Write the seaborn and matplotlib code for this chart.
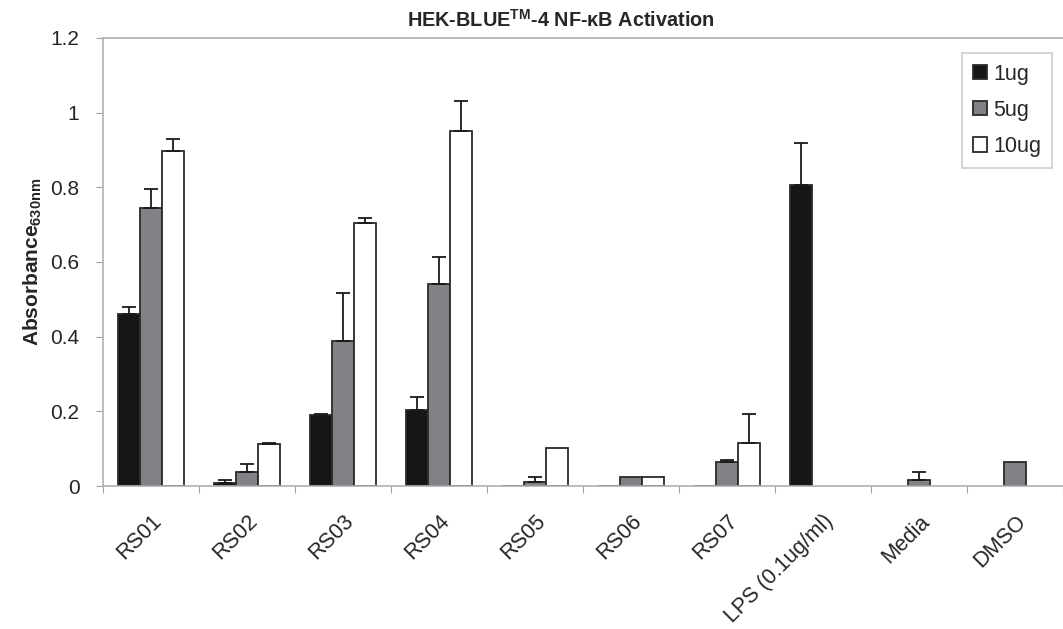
import numpy as np
import pandas as pd
import matplotlib
matplotlib.use("Agg")
import matplotlib.pyplot as plt
import matplotlib.transforms as mtransforms
import seaborn as sns

samples = ["RS01", "RS02", "RS03", "RS04", "RS05", "RS06", "RS07",
           "LPS (0.1ug/ml)", "Media", "DMSO"]
doses = ["1ug", "5ug", "10ug"]

mean_1ug = [0.462, 0.008, 0.190, 0.203, 0.0, 0.0, 0.0, 0.805, np.nan, np.nan]
mean_5ug = [0.745, 0.037, 0.389, 0.541, 0.012, 0.023, 0.063, np.nan, 0.016, 0.063]
mean_10ug = [0.897, 0.112, 0.705, 0.950, 0.101, 0.023, 0.114, np.nan, np.nan, np.nan]

err_1ug = [0.017, 0.007, 0.002, 0.036, 0.0, 0.0, 0.0, 0.114, 0.0, 0.0]
err_5ug = [0.050, 0.023, 0.129, 0.072, 0.011, 0.0, 0.007, 0.0, 0.021, 0.0]
err_10ug = [0.033, 0.002, 0.012, 0.080, 0.0, 0.0, 0.079, 0.0, 0.0, 0.0]

dose_colors = ["#161616", "#808285", "#ffffff"]

rows = []
for dose, means, errs in zip(doses, [mean_1ug, mean_5ug, mean_10ug],
                             [err_1ug, err_5ug, err_10ug]):
    for s, m, e in zip(samples, means, errs):
        rows.append({"sample": s, "dose": dose, "value": m, "err": e})
df = pd.DataFrame(rows)
plot_df = df.dropna(subset=["value"])

sns.set_style("white")
plt.rcParams["font.family"] = ["Liberation Sans", "DejaVu Sans"]
plt.rcParams["mathtext.fontset"] = "custom"
plt.rcParams["mathtext.rm"] = "Liberation Sans"
plt.rcParams["mathtext.bf"] = "Liberation Sans:bold"

fig = plt.figure(figsize=(10.63, 6.29), dpi=100)
ax = fig.add_axes([103 / 1063, 1 - 486 / 629, 1 - 103 / 1063, (486 - 38) / 629])

sns.barplot(data=plot_df, x="sample", y="value", hue="dose",
            order=samples, hue_order=doses, palette=dose_colors,
            errorbar=None, width=0.68, edgecolor="#2a2a2a", linewidth=1.3,
            saturation=1, ax=ax)

# upward-only error bars placed on each drawn bar
for dose, container in zip(doses, ax.containers):
    sub = df[df["dose"] == dose].set_index("sample")
    for patch in container.patches:
        cx = patch.get_x() + patch.get_width() / 2
        h = patch.get_height()
        if np.isnan(h):
            continue
        name = samples[int(round(cx))]
        e = sub.loc[name, "err"]
        if e > 0:
            ax.errorbar(cx, h, yerr=[[0], [e]], fmt="none", ecolor="#1a1a1a",
                        elinewidth=1.3, capsize=5, capthick=1.3, zorder=3)

ax.set_ylim(0, 1.2)
ax.set_xlim(-0.5, (1063 - 103) / 97.6 - 0.5)
ax.set_yticks([0, 0.2, 0.4, 0.6, 0.8, 1.0, 1.2])
ax.set_yticklabels(["0", "0.2", "0.4", "0.6", "0.8", "1", "1.2"], fontsize=15)

# category separators as major ticks, names on minor ticks
ax.set_xticks(np.arange(-0.5, len(samples), 1.0))
ax.set_xticklabels([])
ax.set_xticks(np.arange(len(samples)), minor=True)
ax.set_xticklabels(samples, minor=True, rotation=45, ha="right", va="top",
                   rotation_mode="anchor", fontsize=15.5)
shift = mtransforms.ScaledTranslation(-7 / 100, 0, fig.dpi_scale_trans)
for lbl in ax.get_xticklabels(minor=True):
    lbl.set_transform(lbl.get_transform() + shift)
ax.tick_params(axis="x", which="minor", length=0, pad=18)
ax.tick_params(axis="x", which="major", length=5, color="#a0a0a0", direction="out",
               bottom=True)
ax.tick_params(axis="y", length=5, color="#a0a0a0", direction="out", left=True,
               pad=12)

for side in ["left", "bottom", "top"]:
    ax.spines[side].set_visible(True)
    ax.spines[side].set_color("#b0b0b0")
    ax.spines[side].set_linewidth(1.2)
ax.spines["right"].set_visible(False)

ax.set_xlabel("")
ax.set_ylabel(r"Absorbance$_{\mathbf{630nm}}$", fontsize=15, fontweight="bold")
ax.yaxis.set_label_coords((44 - 103) / 960, 0.5)

handles, labels = ax.get_legend_handles_labels()
leg = ax.legend(handles, labels, loc="upper right",
                bbox_to_anchor=((1052 - 103) / 960, (486 - 53) / 448),
                borderaxespad=0, fontsize=15.5, frameon=True, fancybox=False,
                handlelength=0.65, handleheight=0.65, handletextpad=0.3,
                labelspacing=0.7, borderpad=0.5)
leg.get_frame().set_edgecolor("#c0c0c0")
leg.get_frame().set_linewidth(1.2)

fig.text(561 / 1063, 1 - 20 / 629, r"HEK-BLUE$^{\mathbf{TM}}$-4 NF-κB Activation",
         ha="center", va="center", fontsize=14.3, fontweight="bold")

fig.savefig("out.png", dpi=100)
